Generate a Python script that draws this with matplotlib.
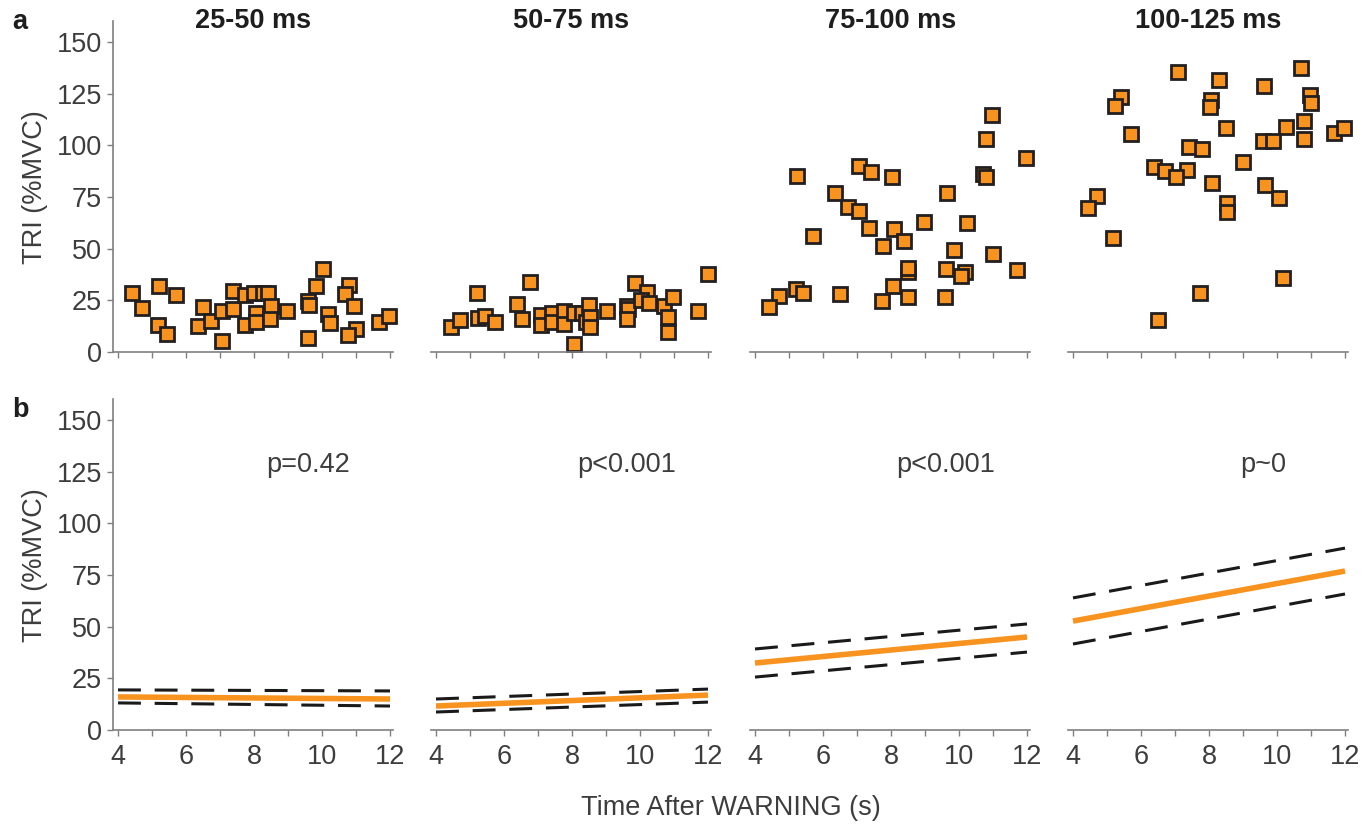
"""TRI activation vs time after WARNING, four latency windows (a: trials, b: fits)."""
import matplotlib

matplotlib.use("Agg")
import matplotlib.pyplot as plt  # noqa: E402
from matplotlib.ticker import MultipleLocator  # noqa: E402

plt.rcParams["font.family"] = ["Liberation Sans", "DejaVu Sans"]

windows = ["25-50 ms", "50-75 ms", "75-100 ms", "100-125 ms"]
p_labels = ["p=0.42", "p<0.001", "p<0.001", "p~0"]

# panel a: single trials (time s, TRI %MVC)
t_25 = [4.42, 4.70, 5.21, 5.71, 5.19, 5.43, 6.49, 6.34, 6.73, 7.05, 7.07, 7.37, 7.37,
        7.74, 7.74, 8.01, 8.06, 8.06, 8.27, 8.42, 8.50, 8.48, 8.96, 9.58, 9.62, 9.58,
        9.82, 10.04, 10.19, 10.24, 10.79, 10.68, 10.94, 10.99, 10.77, 11.69, 11.98]
y_25 = [28.4, 21.1, 31.9, 27.6, 13.1, 8.7, 21.9, 12.7, 14.8, 19.7, 5.3, 29.5, 20.8,
        27.6, 13.1, 28.7, 18.7, 14.7, 28.7, 28.4, 22.3, 16.0, 19.7, 24.7, 22.6, 6.9,
        32.1, 40.0, 18.2, 14.2, 32.4, 27.9, 22.4, 11.0, 8.2, 14.7, 17.4]

t_50 = [4.44, 4.71, 5.21, 5.23, 5.44, 5.74, 6.38, 6.52, 6.76, 7.09, 7.09, 7.40, 7.40,
        7.77, 7.77, 8.05, 8.05, 8.29, 8.41, 8.51, 8.54, 8.54, 9.02, 9.62, 9.64, 9.61,
        9.86, 10.21, 10.03, 10.27, 10.71, 10.98, 10.81, 10.81, 11.71, 11.99]
y_50 = [12.3, 15.5, 28.4, 16.3, 17.4, 14.5, 23.2, 16.1, 33.7, 17.9, 12.9, 19.0, 14.7,
        19.8, 13.4, 19.0, 3.7, 18.7, 14.7, 22.7, 17.1, 12.3, 20.0, 22.4, 20.8, 16.0,
        33.2, 28.9, 25.2, 23.6, 22.3, 26.5, 17.1, 9.8, 19.8, 37.7]

t_75 = [10.96, 10.79, 11.97, 7.07, 7.40, 8.03, 5.24, 10.70, 10.79, 6.36, 9.64, 6.73,
        7.06, 8.98, 10.24, 7.36, 8.09, 5.72, 7.77, 8.38, 9.84, 11.01, 8.51, 8.51, 9.61,
        10.19, 10.06, 11.70, 8.07, 5.21, 5.40, 4.71, 4.42, 6.50, 7.74, 8.51, 9.59]
y_75 = [114.7, 102.9, 93.7, 90.0, 87.2, 84.5, 85.1, 86.1, 84.5, 77.1, 77.1, 70.0,
        68.4, 62.7, 62.2, 60.1, 59.5, 56.3, 51.4, 53.7, 49.2, 47.3, 38.8, 40.5, 40.0,
        38.7, 36.9, 39.5, 31.9, 30.3, 28.4, 27.2, 21.9, 28.1, 24.7, 26.8, 26.5]

t_100 = [7.08, 10.71, 8.29, 9.61, 5.42, 5.24, 8.07, 8.04, 10.96, 11.01, 5.71, 8.51,
         10.25, 10.78, 10.80, 11.69, 11.98, 9.58, 9.87, 7.40, 7.79, 8.99, 6.37, 6.72,
         7.35, 7.04, 8.09, 9.64, 10.07, 4.71, 4.44, 8.53, 8.53, 5.19, 10.19, 7.74, 6.50]
y_100 = [135.6, 137.5, 131.6, 128.5, 123.2, 119.0, 121.9, 118.4, 124.3, 120.3, 105.5,
         108.2, 108.7, 111.6, 102.9, 105.8, 108.2, 102.2, 102.2, 99.0, 98.1, 91.8, 89.4,
         87.7, 88.1, 84.8, 81.6, 80.8, 74.5, 75.5, 69.5, 71.9, 67.9, 55.2, 35.6, 28.4,
         15.5]

trials_t = [t_25, t_50, t_75, t_100]
trials_y = [y_25, y_50, y_75, y_100]

# panel b: linear fit and confidence bounds at t = 4 s and t = 12 s
fit_t = [4, 12]
fit_mid = [[16.0, 15.0], [11.6, 16.9], [32.4, 45.0], [52.7, 76.9]]
fit_hi = [[19.4, 18.9], [15.0, 19.8], [39.2, 51.3], [63.9, 88.0]]
fit_lo = [[13.1, 11.6], [8.7, 13.5], [25.6, 37.7], [41.6, 65.8]]

ORANGE = "#f7931e"
EDGE = "#231f20"
GREY = "#7f7f7f"
TEXT = "#3d3d3d"

W, H = 1372, 827
fig = plt.figure(figsize=(W / 100, H / 100), dpi=100)

col_x4 = [118, 436, 755, 1073]  # pixel of t=4 in each column
px_per_s = 34.0
x_lo, x_hi = 3.85, 12.1
row_bottom = [352, 730]  # pixel of y=0 per row
y_top = 160
ax_h = y_top * 2.067


def style_axis(ax, first_col):
    ax.set_xlim(x_lo, x_hi)
    ax.set_ylim(0, y_top)
    ax.xaxis.set_major_locator(MultipleLocator(2))
    ax.xaxis.set_minor_locator(MultipleLocator(1))
    ax.yaxis.set_major_locator(MultipleLocator(25))
    for side in ("top", "right"):
        ax.spines[side].set_visible(False)
    ax.spines["bottom"].set_color(GREY)
    ax.spines["bottom"].set_linewidth(1.2)
    ax.tick_params(axis="x", which="both", direction="out", length=4, width=1,
                   color=GREY, labelsize=19.5, labelcolor=TEXT, pad=6)
    if first_col:
        ax.spines["left"].set_color(GREY)
        ax.spines["left"].set_linewidth(1.2)
        ax.tick_params(axis="y", direction="out", length=4, width=1, color=GREY,
                       labelsize=19.5, labelcolor=TEXT, pad=4)
        ax.set_ylabel("TRI (%MVC)", fontsize=19.5, color=TEXT, labelpad=6)
        ax.set_yticks(range(0, 151, 25))
    else:
        ax.spines["left"].set_visible(False)
        ax.tick_params(axis="y", left=False, labelleft=False)


for row in range(2):
    for col in range(4):
        left = (col_x4[col] - (4 - x_lo) * px_per_s) / W
        width = (x_hi - x_lo) * px_per_s / W
        bottom = 1 - row_bottom[row] / H
        ax = fig.add_axes([left, bottom, width, ax_h / H])
        style_axis(ax, col == 0)
        if row == 0:
            ax.plot(trials_t[col], trials_y[col], linestyle="none", marker="s",
                    ms=9.5, mfc=ORANGE, mec=EDGE, mew=2, clip_on=False)
            ax.text(0.5, 1.0, windows[col], transform=ax.transAxes, fontsize=19.5,
                    fontweight="bold", color="#1e1e1e", ha="center", va="center")
            ax.tick_params(axis="x", labelbottom=False)
        else:
            ax.plot(fit_t, fit_hi[col], color="#1a1a1a", lw=2.2, dashes=(7.5, 4.5))
            ax.plot(fit_t, fit_lo[col], color="#1a1a1a", lw=2.2, dashes=(7.5, 4.5))
            ax.plot(fit_t, fit_mid[col], color=ORANGE, lw=4, solid_capstyle="butt")
            ax.text(9.6, 128, p_labels[col], fontsize=19.5, color=TEXT,
                    ha="center", va="center")

fig.text(20 / W, 1 - 22 / H, "a", fontsize=19.5, fontweight="bold", color="#1e1e1e",
         ha="center", va="center")
fig.text(20 / W, 1 - 410 / H, "b", fontsize=19.5, fontweight="bold", color="#1e1e1e",
         ha="center", va="center")
fig.text(731 / W, 1 - 808 / H, "Time After WARNING (s)", fontsize=19.5, color=TEXT,
         ha="center", va="center")

fig.savefig("out.png", dpi=100)
